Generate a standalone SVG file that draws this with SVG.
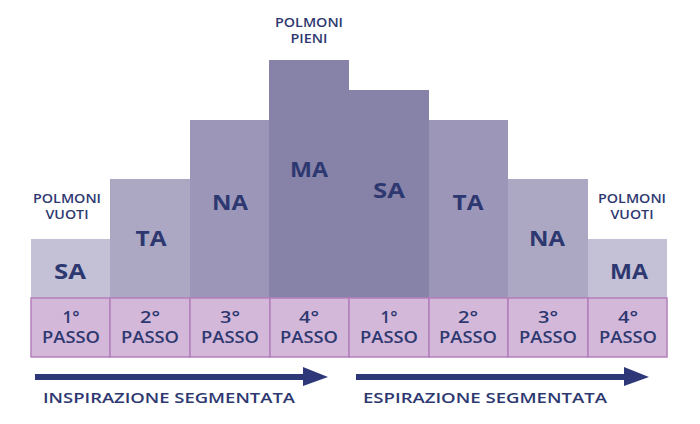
<svg xmlns="http://www.w3.org/2000/svg" width="700" height="424" viewBox="0 0 700 424">
<style>
text{font-family:"Open Sans","Liberation Sans",sans-serif;fill:#2e3870;text-anchor:middle}
.big{font-size:22px;font-weight:700}
.note{font-size:12.5px;font-weight:600}
.step rect{fill:#d4b8d9;stroke:#b27fbb;stroke-width:1.5}
.stxt{font-size:15.5px;font-weight:600}
.lab{font-size:14.5px;font-weight:600;text-anchor:start}
</style>
<rect width="700" height="424" fill="#fff"/>
<g id="bars">
<rect x="31" y="239" width="79" height="59" fill="#c4c1d6"/>
<rect x="110" y="179" width="80" height="119" fill="#aca8c4"/>
<rect x="190" y="120" width="80" height="178" fill="#9c97b9"/>
<rect x="269" y="60" width="80" height="238" fill="#8783a8"/>
<rect x="349" y="90" width="80" height="208" fill="#8783a8"/>
<rect x="429" y="120" width="79" height="178" fill="#9c97b9"/>
<rect x="508" y="179" width="80" height="119" fill="#aca8c4"/>
<rect x="588" y="239" width="79" height="59" fill="#c4c1d6"/>
</g>
<g id="bar-labels">
<text class="big" x="70" y="279" textLength="32" lengthAdjust="spacingAndGlyphs">SA</text>
<text class="big" x="151" y="246" textLength="31" lengthAdjust="spacingAndGlyphs">TA</text>
<text class="big" x="230" y="210" textLength="36" lengthAdjust="spacingAndGlyphs">NA</text>
<text class="big" x="309" y="177" textLength="38" lengthAdjust="spacingAndGlyphs">MA</text>
<text class="big" x="389" y="198" textLength="32" lengthAdjust="spacingAndGlyphs">SA</text>
<text class="big" x="468" y="210" textLength="31" lengthAdjust="spacingAndGlyphs">TA</text>
<text class="big" x="547" y="246" textLength="36" lengthAdjust="spacingAndGlyphs">NA</text>
<text class="big" x="629" y="279" textLength="38" lengthAdjust="spacingAndGlyphs">MA</text>
</g>
<g id="notes">
<text class="note" x="67" y="203" textLength="68" lengthAdjust="spacingAndGlyphs">POLMONI</text>
<text class="note" x="67" y="219" textLength="43" lengthAdjust="spacingAndGlyphs">VUOTI</text>
<text class="note" x="309" y="27" textLength="68" lengthAdjust="spacingAndGlyphs">POLMONI</text>
<text class="note" x="309" y="43" textLength="37" lengthAdjust="spacingAndGlyphs">PIENI</text>
<text class="note" x="632" y="203" textLength="68" lengthAdjust="spacingAndGlyphs">POLMONI</text>
<text class="note" x="632" y="219" textLength="43" lengthAdjust="spacingAndGlyphs">VUOTI</text>
</g>
<g id="steps" class="step">
<rect x="31" y="298" width="79" height="59"/>
<rect x="110" y="298" width="80" height="59"/>
<rect x="190" y="298" width="80" height="59"/>
<rect x="270" y="298" width="79" height="59"/>
<rect x="349" y="298" width="80" height="59"/>
<rect x="429" y="298" width="79" height="59"/>
<rect x="508" y="298" width="80" height="59"/>
<rect x="588" y="298" width="79" height="59"/>
<text class="stxt" x="71" y="323" textLength="17" lengthAdjust="spacingAndGlyphs">1°</text><text class="stxt" x="71" y="343" textLength="58" lengthAdjust="spacingAndGlyphs">PASSO</text>
<text class="stxt" x="150" y="323" textLength="20" lengthAdjust="spacingAndGlyphs">2°</text><text class="stxt" x="150" y="343" textLength="58" lengthAdjust="spacingAndGlyphs">PASSO</text>
<text class="stxt" x="230" y="323" textLength="20" lengthAdjust="spacingAndGlyphs">3°</text><text class="stxt" x="230" y="343" textLength="58" lengthAdjust="spacingAndGlyphs">PASSO</text>
<text class="stxt" x="309" y="323" textLength="20" lengthAdjust="spacingAndGlyphs">4°</text><text class="stxt" x="309" y="343" textLength="58" lengthAdjust="spacingAndGlyphs">PASSO</text>
<text class="stxt" x="389" y="323" textLength="17" lengthAdjust="spacingAndGlyphs">1°</text><text class="stxt" x="389" y="343" textLength="58" lengthAdjust="spacingAndGlyphs">PASSO</text>
<text class="stxt" x="468" y="323" textLength="20" lengthAdjust="spacingAndGlyphs">2°</text><text class="stxt" x="468" y="343" textLength="58" lengthAdjust="spacingAndGlyphs">PASSO</text>
<text class="stxt" x="548" y="323" textLength="20" lengthAdjust="spacingAndGlyphs">3°</text><text class="stxt" x="548" y="343" textLength="58" lengthAdjust="spacingAndGlyphs">PASSO</text>
<text class="stxt" x="628" y="323" textLength="20" lengthAdjust="spacingAndGlyphs">4°</text><text class="stxt" x="628" y="343" textLength="58" lengthAdjust="spacingAndGlyphs">PASSO</text>
</g>
<g id="connectors" fill="#2e3878">
<path d="M35 374H303V367L328 377L303 386V380H35Z"/>
<path d="M356 374H624V367L649 377L624 386V380H356Z"/>
</g>
<g id="arrow-labels">
<text class="lab" x="43" y="403" textLength="252" lengthAdjust="spacingAndGlyphs">INSPIRAZIONE SEGMENTATA</text>
<text class="lab" x="363" y="403" textLength="244" lengthAdjust="spacingAndGlyphs">ESPIRAZIONE SEGMENTATA</text>
</g>
</svg>
